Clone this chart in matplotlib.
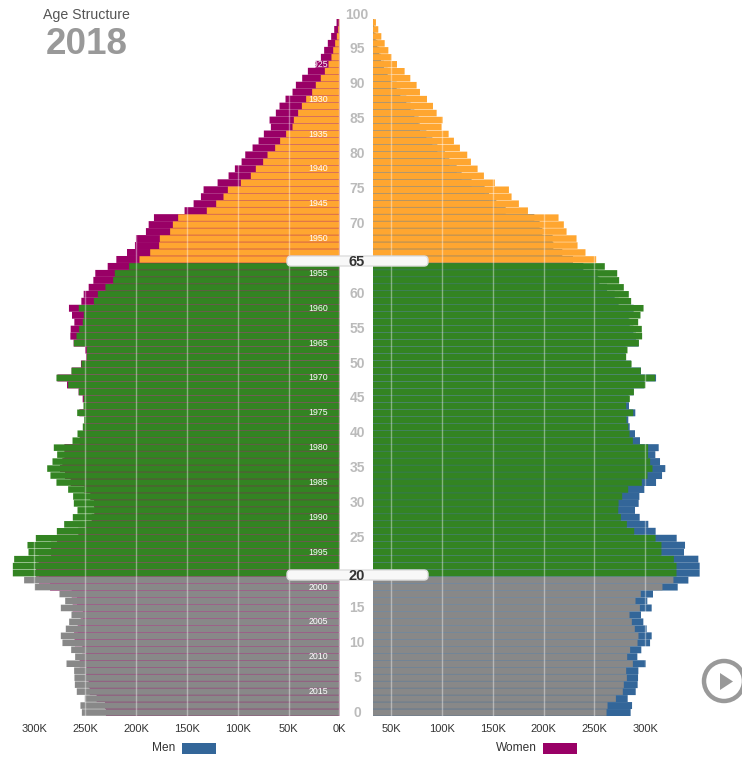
import numpy as np
import matplotlib
matplotlib.use('Agg')
import matplotlib.pyplot as plt
from matplotlib.patches import Circle, FancyBboxPatch, Polygon, Rectangle

plt.rcParams['font.family'] = ['Liberation Sans', 'DejaVu Sans']

# edades de 99 a 0, valores en miles
edades = np.arange(99, -1, -1)
hombres = [0.7, 1.3, 2.6, 4.3, 6.2, 7.9, 10.8, 14.4, 18.4, 23.3,
           26.9, 32.8, 37.0, 40.7, 44.9, 46.2, 52.5, 58.4, 63.3, 70.8,
           75.1, 82.3, 87.2, 97.0, 109.8, 114.1, 121.3, 130.5, 158.7, 163.9,
           166.6, 176.7, 177.4, 186.2, 196.7, 206.9, 221.0, 222.6, 230.2, 237.7,
           241.6, 256.4, 251.5, 252.5, 256.1, 258.7, 261.3, 248.5, 248.5, 253.8,
           263.6, 278.4, 266.9, 256.4, 251.5, 251.8, 258.0, 251.1, 252.5, 257.7,
           262.6, 281.0, 277.7, 282.3, 287.5, 284.3, 278.4, 266.9, 262.0, 261.3,
           257.7, 262.3, 270.8, 278.0, 298.7, 306.9, 305.9, 320.0, 321.3, 321.3,
           310.2, 299.7, 275.4, 269.8, 274.1, 263.6, 265.9, 269.2, 274.1, 272.5,
           263.9, 260.0, 268.5, 261.0, 260.7, 260.3, 258.4, 250.5, 254.8, 253.4]
mujeres = [2.9, 5.2, 8.2, 11.5, 15.1, 18.3, 23.6, 31.1, 36.7, 42.9,
           46.2, 53.1, 59.0, 62.6, 68.8, 67.5, 74.4, 79.6, 85.5, 92.7,
           96.3, 102.9, 109.1, 119.9, 133.7, 136.3, 143.5, 152.4, 182.5, 187.7,
           190.4, 200.2, 201.2, 209.0, 219.5, 228.0, 240.2, 242.1, 246.7, 251.6,
           253.9, 266.1, 263.1, 260.8, 264.4, 264.7, 261.5, 250.3, 249.0, 254.3,
           263.4, 277.5, 268.0, 256.6, 252.6, 249.0, 255.9, 249.3, 251.0, 252.3,
           255.6, 270.6, 270.6, 272.6, 274.9, 270.0, 264.4, 251.0, 245.1, 241.5,
           241.2, 243.8, 249.7, 256.9, 277.9, 283.7, 283.7, 295.9, 298.5, 298.5,
           295.5, 284.7, 263.4, 258.2, 262.5, 252.3, 254.6, 257.5, 261.1, 260.2,
           252.9, 250.0, 255.6, 249.0, 249.7, 246.7, 245.7, 238.9, 230.7, 229.7]

valores_eje = [0, 50, 100, 150, 200, 250, 300]
etiquetas_edad = list(range(0, 101, 5))
anios = list(range(1925, 2016, 5))
anio_actual = 2018

COLOR_HOMBRES = '#336699'
COLOR_MUJERES = '#990066'
W, H = 742, 757
ESCALA = 1.0167  # pixeles por mil
DESPLAZAMIENTO = 32.3  # el eje derecho no parte en cero
ALTO_BARRA = 0.94


def color_edad(edad):
    if edad >= 65:
        return '#FFA630'
    if edad >= 20:
        return '#338422'
    return '#888888'


def piramide(ax, fondo, frente, color_fondo):
    # sin snap para que la separacion entre filas quede suave
    barras = ax.barh(edades, fondo, height=1.0, color=color_fondo, zorder=1)
    for b in barras:
        b.set_snap(False)
    barras = ax.barh(edades, frente, height=ALTO_BARRA, color=colores, zorder=2)
    for b in barras:
        b.set_snap(False)


colores = [color_edad(e) for e in edades]

fig = plt.figure(figsize=(W / 100, H / 100), dpi=100, facecolor='white')
arriba, abajo = 19, 716

# ---- lado izquierdo ----
ax_izq = fig.add_axes([0, 1 - abajo / H, 339.5 / W, (abajo - arriba) / H])
piramide(ax_izq, mujeres, hombres, COLOR_MUJERES)
ax_izq.set_xlim(339.5 / ESCALA, 0)
ax_izq.set_xticks(valores_eje)
ax_izq.set_xticklabels([f'{v}K' for v in valores_eje])

# ---- lado derecho ----
ax_der = fig.add_axes([373 / W, 1 - abajo / H, 369 / W, (abajo - arriba) / H])
piramide(ax_der, hombres, mujeres, COLOR_HOMBRES)
ax_der.set_xlim(0, 369 / ESCALA)
ax_der.set_xticks([v - DESPLAZAMIENTO for v in valores_eje[1:]])
ax_der.set_xticklabels([f'{v}K' for v in valores_eje[1:]])

for ax in (ax_izq, ax_der):
    ax.set_ylim(-0.5, 99.5)
    ax.set_yticks([])
    for lado in ax.spines.values():
        lado.set_visible(False)
    ax.tick_params(axis='x', length=0, labelsize=8, labelcolor='#333333', pad=6)
    ax.grid(axis='x', color='white', alpha=0.4, linewidth=1, zorder=3)
    ax.set_axisbelow(False)

# anios de nacimiento dentro de las barras
for anio in anios:
    ax_izq.text(21, anio_actual - anio, str(anio), color='white', fontsize=6.3,
                ha='center', va='center', zorder=4)

# ---- capa superior en pixeles ----
capa = fig.add_axes([0, 0, 1, 1], facecolor='none')
capa.set_xlim(0, W)
capa.set_ylim(H, 0)
capa.axis('off')

for edad in etiquetas_edad:
    if edad in (20, 65):
        continue
    y = 716 - 6.98 * (edad + 0.5)
    capa.text(357, y, str(edad), color='#BBBBBB', fontsize=10, fontweight='bold',
              ha='center', va='center')

# manijas de 20 y 65
for edad, y in [(65, 261), (20, 575)]:
    capa.add_patch(FancyBboxPatch((287, y - 5), 141, 10, boxstyle='round,pad=0,rounding_size=4',
                                  linewidth=1, edgecolor='#DDDDDD',
                                  facecolor='#F8F8F8', zorder=5))
    capa.text(357, y + 1, str(edad), color='#333333', fontsize=10.5, fontweight='bold',
              ha='center', va='center', zorder=6)

capa.text(43, 14.5, 'Age Structure', color='#555555', fontsize=10.2, ha='left', va='center')
capa.text(45.5, 44, str(anio_actual), color='#999999', fontsize=26.5, fontweight='bold', ha='left', va='center')

# leyenda
capa.text(175, 748, 'Men', color='#333333', fontsize=8.6, ha='right', va='center')
capa.add_patch(Rectangle((182, 743), 34, 11, facecolor=COLOR_HOMBRES))
capa.text(537, 748, 'Women', color='#333333', fontsize=8.6, ha='right', va='center')
capa.add_patch(Rectangle((543, 743), 34, 11, facecolor=COLOR_MUJERES))

# boton de reproduccion
capa.add_patch(Circle((724, 681), 20, facecolor='white', edgecolor='#999999', linewidth=3.2))
capa.add_patch(Polygon([(720, 673), (720, 690), (733, 681.5)], facecolor='#999999'))

fig.savefig('out.png', dpi=100)
